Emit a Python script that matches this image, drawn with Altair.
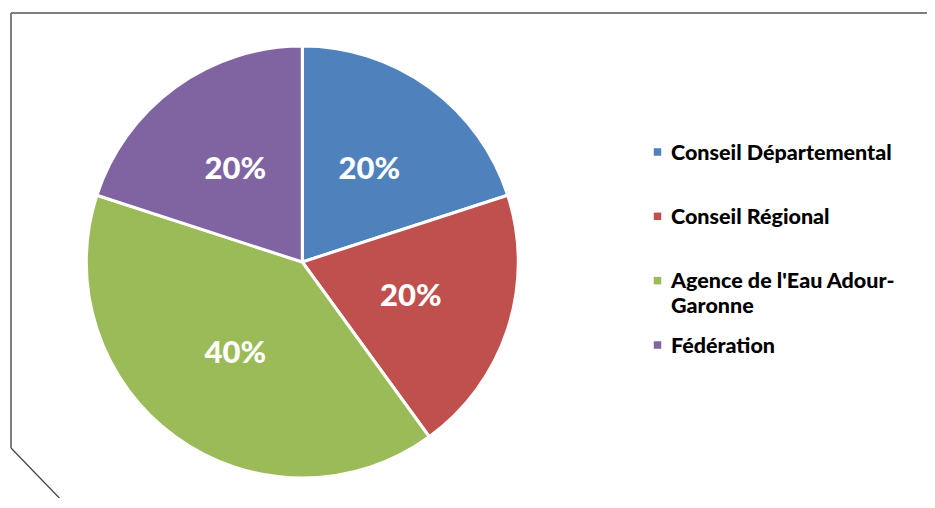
import altair as alt
import pandas as pd

categories = ["Conseil Départemental", "Conseil Régional", "Agence de l'Eau Adour-Garonne", "Fédération"]
legend_labels = ["Conseil Départemental", "Conseil Régional", "Agence de l'Eau Adour-\nGaronne", "Fédération"]
values = [20, 20, 40, 20]
pct_labels = ["20%", "20%", "40%", "20%"]
colors = ["#4F81BD", "#C0504D", "#9BBB59", "#8064A2"]

df = pd.DataFrame({
    "category": categories,
    "legend": legend_labels,
    "value": values,
    "label": pct_labels,
    "order": list(range(len(categories))),
})

W, H = 919, 490
cx, cy = 294.3, 254

color = alt.Color("category:N", scale=alt.Scale(domain=categories, range=colors), legend=None)
theta = alt.Theta("value:Q", stack=True)
order = alt.Order("order:Q")

base = alt.Chart(df)

pie = base.mark_arc(outerRadius=216, stroke="white", strokeWidth=3).encode(
    theta=theta, color=color, order=order,
    x=alt.value(cx), y=alt.value(cy),
)

labels = base.mark_text(radius=114, font="Lato", fontWeight=900, fontSize=31,
                        color="white", align="center", baseline="middle").encode(
    theta=theta, order=order, text="label:N",
    x=alt.value(cx), y=alt.value(cy),
)

ly = alt.Y("category:N", scale=alt.Scale(type="point", domain=categories, range=[144, 337], padding=0),
           axis=None)

leg_sym = base.mark_square(size=56, opacity=1).encode(
    x=alt.value(649.5), y=ly, color=color,
)
leg_txt = base.mark_text(align="left", baseline="alphabetic", dy=7.5, font="Lato",
                         fontWeight=900, fontSize=21.5, lineBreak="\n", lineHeight=25,
                         color="#000000").encode(
    x=alt.value(663), y=ly, text="legend:N",
)

frame_top = alt.Chart(pd.DataFrame({"a": [0]})).mark_rule(color="#7f7f7f", strokeWidth=2).encode(
    x=alt.value(3), x2=alt.value(W), y=alt.value(5), y2=alt.value(5))
frame_left = alt.Chart(pd.DataFrame({"a": [0]})).mark_rule(color="#7f7f7f", strokeWidth=2).encode(
    x=alt.value(3), x2=alt.value(3), y=alt.value(5), y2=alt.value(440))
frame_diag = alt.Chart(pd.DataFrame({"a": [0]})).mark_rule(color="#404040", strokeWidth=1.2).encode(
    x=alt.value(3), x2=alt.value(51.3), y=alt.value(440), y2=alt.value(490))

chart = alt.layer(frame_top, frame_left, frame_diag, pie, labels, leg_sym, leg_txt).properties(
    width=W, height=H, padding=0, autosize=alt.AutoSizeParams(type="none"),
    background="white",
).configure_view(stroke=None)

chart.save("out.html", embed_options={"renderer": "svg", "actions": False})
